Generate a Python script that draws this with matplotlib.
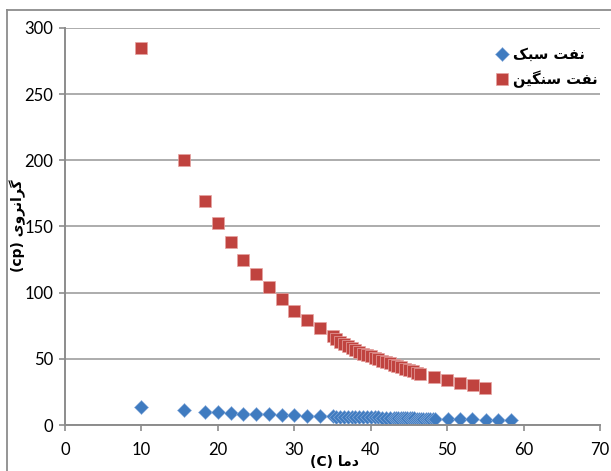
import matplotlib
matplotlib.use("Agg")
import matplotlib.pyplot as plt
from matplotlib.lines import Line2D

# داده ها - نفت سبک (light oil)
x_light = [10, 15.6, 18.3, 20, 21.7, 23.3, 25, 26.7, 28.4, 30, 31.7, 33.4,
           35, 35.5, 36, 36.5, 37, 37.5, 38, 38.5, 39, 39.5, 40, 40.5, 41, 41.5,
           42, 42.5, 43, 43.3, 43.6, 43.9, 44.2, 44.5, 44.8, 45.1, 45.4, 45.7,
           46, 46.3, 46.6, 46.9, 47.2, 47.5, 47.8, 48.1, 48.4,
           50.1, 51.7, 53.3, 55.1, 56.7, 58.3]
y_light = [13.8, 11.3, 10, 9.5, 9, 8.6, 8.3, 8, 7.6, 7.3, 7, 6.8,
           6.5, 6.4, 6.4, 6.3, 6.2, 6.2, 6.1, 6.0, 6.0, 5.9, 5.8, 5.8, 5.7, 5.6,
           5.6, 5.5, 5.4, 5.4, 5.3, 5.3, 5.2, 5.2, 5.1, 5.1, 5.0, 5.0,
           4.9, 4.9, 4.8, 4.8, 4.8, 4.7, 4.7, 4.6, 4.6,
           4.5, 4.4, 4.3, 4.1, 4.0, 3.9]

# نفت سنگین (heavy oil)
x_heavy = [10, 15.6, 18.3, 20, 21.7, 23.3, 25, 26.7, 28.4, 30, 31.7, 33.4,
           35, 35.5, 36, 36.5, 37, 37.5, 38, 38.5, 39, 39.5, 40, 40.5, 41, 41.5,
           42, 42.5, 43, 43.5, 44, 44.5, 45, 45.5, 46, 46.5,
           48.3, 50, 51.7, 53.4, 55]
y_heavy = [285, 200, 169, 153, 138, 125, 114, 104.5, 95, 86, 79, 73,
           67, 65, 63, 61.5, 60, 58.5, 57, 55.5, 54, 53, 52, 50.5, 49.5, 48.5,
           47.5, 46.5, 45.5, 44.5, 43.5, 42.5, 41.5, 40.5, 39.5, 38.5,
           36.5, 34, 32, 30, 28]

x_ticks = [0, 10, 20, 30, 40, 50, 60, 70]
y_ticks = [0, 50, 100, 150, 200, 250, 300]

# متن فارسی با حروف شکل یافته (ترتیب نمایشی)
lbl_light = "\uFB8F\uFE92\uFEB3 \uFE96\uFED4\uFEE7"            # نفت سبک
lbl_heavy = "\uFEE6\uFBFF\uFB95\uFEE8\uFEB3 \uFE96\uFED4\uFEE7"  # نفت سنگین
lbl_x = "(C) \uFE8E\uFEE3\uFEA9"                               # دما (C)
lbl_y = "(cp) \uFBFC\uFEED\uFEAE\uFEE7\uFE8D\uFEAE\uFB94"      # گرانروی (cp)

blue = "#3F7BC0"
red = "#C0433F"
grid_c = "#A6A6A6"

fig = plt.figure(figsize=(6.11, 4.71), dpi=100)
ax = fig.add_axes([65/611, 1-425/471, 535/611, 397/471])

ax.plot(x_light, y_light, linestyle="none", marker="D", markersize=7.6,
        color=blue, markeredgecolor="#8FB0DC", markeredgewidth=0.4, label=lbl_light)
ax.plot(x_heavy, y_heavy, linestyle="none", marker="s", markersize=9.2,
        color=red, markeredgecolor="#E6A3A1", markeredgewidth=0.5, label=lbl_heavy)

ax.set_xlim(0, 70)
ax.set_ylim(0, 300)
ax.set_xticks(x_ticks)
ax.set_yticks(y_ticks)
ax.yaxis.grid(True, color=grid_c, linewidth=1.3)
ax.set_axisbelow(True)
for s in ["top", "right"]:
    ax.spines[s].set_visible(False)
for s in ["left", "bottom"]:
    ax.spines[s].set_color("#8C8C8C")
    ax.spines[s].set_linewidth(1.4)
ax.tick_params(axis="both", colors="#8C8C8C", length=4.5, width=1.2, labelcolor="black")
ax.tick_params(axis="x", pad=8)
ax.tick_params(axis="y", pad=4)
for t in ax.get_xticklabels() + ax.get_yticklabels():
    t.set_fontfamily("Lato")
    t.set_fontsize(12)

leg = ax.legend(loc="upper left", bbox_to_anchor=(0.781, 0.985), frameon=False,
                handlelength=0.8, handletextpad=0.4, labelspacing=0.55,
                prop={"family": "DejaVu Sans", "weight": "bold", "size": 10.5})

fig.text(334/611, 1-462/471, lbl_x, ha="center", va="center",
         family="DejaVu Sans", weight="bold", fontsize=10)
fig.text(18/611, 1-226/471, lbl_y, ha="center", va="center", rotation=90,
         family="DejaVu Sans", weight="bold", fontsize=10)

# outer chart frame
fig.add_artist(Line2D([7/611, 7/611], [0, 1-10/471], transform=fig.transFigure,
                      color="#8C8C8C", linewidth=1.3))
fig.add_artist(Line2D([7/611, 1], [1-10/471, 1-10/471], transform=fig.transFigure,
                      color="#8C8C8C", linewidth=1.3))

fig.savefig("out.png", dpi=100)
